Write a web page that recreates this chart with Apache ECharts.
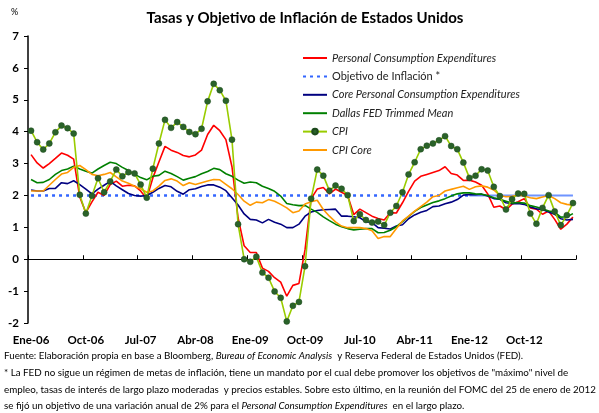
<!DOCTYPE html>
<html>
<head>
<meta charset="utf-8">
<title>Tasas y Objetivo de Inflación de Estados Unidos</title>
<script src="https://cdn.jsdelivr.net/npm/echarts@6/dist/echarts.min.js"></script>
<style>
	html, body { margin: 0; padding: 0; background: #fff; }
	#chart { width: 599px; height: 413px; }
</style>
</head>
<body>
<div id="chart"></div>
<script>
// meses (ene-2006 a jun-2013)
var meses = [
	'Ene-06', 'Feb-06', 'Mar-06', 'Abr-06', 'May-06', 'Jun-06', 'Jul-06', 'Ago-06', 'Sep-06', 'Oct-06', 'Nov-06', 'Dic-06',
	'Ene-07', 'Feb-07', 'Mar-07', 'Abr-07', 'May-07', 'Jun-07', 'Jul-07', 'Ago-07', 'Sep-07', 'Oct-07', 'Nov-07', 'Dic-07',
	'Ene-08', 'Feb-08', 'Mar-08', 'Abr-08', 'May-08', 'Jun-08', 'Jul-08', 'Ago-08', 'Sep-08', 'Oct-08', 'Nov-08', 'Dic-08',
	'Ene-09', 'Feb-09', 'Mar-09', 'Abr-09', 'May-09', 'Jun-09', 'Jul-09', 'Ago-09', 'Sep-09', 'Oct-09', 'Nov-09', 'Dic-09',
	'Ene-10', 'Feb-10', 'Mar-10', 'Abr-10', 'May-10', 'Jun-10', 'Jul-10', 'Ago-10', 'Sep-10', 'Oct-10', 'Nov-10', 'Dic-10',
	'Ene-11', 'Feb-11', 'Mar-11', 'Abr-11', 'May-11', 'Jun-11', 'Jul-11', 'Ago-11', 'Sep-11', 'Oct-11', 'Nov-11', 'Dic-11',
	'Ene-12', 'Feb-12', 'Mar-12', 'Abr-12', 'May-12', 'Jun-12', 'Jul-12', 'Ago-12', 'Sep-12', 'Oct-12', 'Nov-12', 'Dic-12',
	'Ene-13', 'Feb-13', 'Mar-13', 'Abr-13', 'May-13', 'Jun-13'
];

// Personal Consumption Expenditures
var pce = [
	3.28, 3.02, 2.86, 3.00, 3.16, 3.33, 3.26, 3.14, 1.95, 1.46, 1.80, 2.10,
	2.00, 2.34, 2.45, 2.29, 2.32, 2.30, 2.14, 1.90, 2.55, 3.05, 3.54, 3.42,
	3.35, 3.25, 3.21, 3.27, 3.42, 3.91, 4.20, 4.03, 3.75, 2.90, 1.30, 0.42,
	0.21, 0.21, -0.28, -0.38, -0.58, -0.72, -1.16, -0.82, -0.76, 0.30, 1.90, 2.20,
	2.25, 2.05, 2.20, 2.10, 2.00, 1.40, 1.57, 1.46, 1.35, 1.28, 1.23, 1.46,
	1.45, 1.77, 2.13, 2.45, 2.60, 2.66, 2.72, 2.78, 2.90, 2.69, 2.64, 2.47,
	2.48, 2.42, 2.32, 2.05, 1.63, 1.67, 1.55, 1.73, 1.80, 1.90, 1.61, 1.57,
	1.41, 1.51, 1.25, 0.94, 1.10, 1.32
];

// Core PCE
var corePce = [
	2.17, 2.14, 2.14, 2.22, 2.22, 2.40, 2.37, 2.46, 2.34, 2.20, 2.05, 2.20,
	2.32, 2.44, 2.30, 2.18, 2.06, 2.00, 1.98, 2.00, 2.10, 2.22, 2.31, 2.27,
	2.13, 2.04, 2.18, 2.21, 2.28, 2.33, 2.33, 2.26, 2.15, 1.93, 1.70, 1.42,
	1.25, 1.23, 1.14, 1.25, 1.16, 1.10, 0.99, 0.99, 1.10, 1.35, 1.48, 1.53,
	1.55, 1.56, 1.57, 1.35, 1.35, 1.33, 1.30, 1.18, 1.15, 0.99, 0.97, 0.95,
	1.04, 1.08, 1.27, 1.39, 1.47, 1.53, 1.65, 1.67, 1.74, 1.79, 1.87, 2.01,
	2.03, 2.02, 2.04, 1.98, 1.90, 1.88, 1.77, 1.74, 1.75, 1.72, 1.64, 1.58,
	1.56, 1.48, 1.41, 1.27, 1.23, 1.25
];

// Dallas FED Trimmed Mean
var dallas = [
	2.50, 2.40, 2.41, 2.50, 2.66, 2.78, 2.83, 2.92, 2.83, 2.76, 2.70, 2.83,
	2.94, 3.04, 3.00, 2.88, 2.78, 2.67, 2.56, 2.49, 2.60, 2.63, 2.76, 2.69,
	2.59, 2.48, 2.54, 2.59, 2.68, 2.75, 2.85, 2.81, 2.68, 2.60, 2.48, 2.38,
	2.42, 2.40, 2.29, 2.22, 2.13, 1.98, 1.75, 1.71, 1.68, 1.69, 1.57, 1.47,
	1.33, 1.21, 1.10, 1.02, 0.96, 0.92, 0.94, 0.96, 0.96, 0.83, 0.84, 0.91,
	1.02, 1.18, 1.34, 1.50, 1.62, 1.70, 1.78, 1.83, 1.90, 1.98, 2.05, 2.08,
	2.08, 2.05, 2.04, 2.00, 1.93, 1.88, 1.82, 1.76, 1.78, 1.76, 1.68, 1.64,
	1.58, 1.51, 1.48, 1.32, 1.33, 1.43
];

// CPI
var cpi = [
	4.03, 3.67, 3.44, 3.63, 3.98, 4.19, 4.11, 3.94, 2.02, 1.43, 1.99, 2.54,
	2.10, 2.44, 2.81, 2.60, 2.73, 2.69, 2.34, 1.93, 2.84, 3.63, 4.37, 4.12,
	4.30, 4.15, 3.99, 3.92, 4.09, 4.95, 5.50, 5.30, 4.97, 3.75, 1.10, 0.00,
	-0.08, 0.08, -0.42, -0.58, -1.01, -1.21, -1.95, -1.46, -1.34, -0.22, 1.90, 2.81,
	2.62, 2.15, 2.31, 2.21, 2.01, 1.20, 1.41, 1.23, 1.15, 1.18, 1.07, 1.46,
	1.67, 2.10, 2.66, 3.04, 3.45, 3.56, 3.63, 3.73, 3.86, 3.55, 3.45, 3.03,
	2.55, 2.62, 2.82, 2.78, 2.27, 1.98, 1.56, 1.88, 2.06, 2.05, 1.43, 1.11,
	1.61, 2.01, 1.50, 1.07, 1.38, 1.76
];

// CPI Core
var cpiCore = [
	2.14, 2.14, 2.14, 2.32, 2.50, 2.67, 2.72, 2.88, 2.94, 2.81, 2.66, 2.62,
	2.66, 2.72, 2.58, 2.45, 2.38, 2.29, 2.21, 2.10, 2.14, 2.29, 2.47, 2.52,
	2.45, 2.31, 2.40, 2.34, 2.40, 2.45, 2.50, 2.49, 2.35, 2.21, 2.03, 1.82,
	1.69, 1.79, 1.77, 1.87, 1.82, 1.72, 1.61, 1.46, 1.51, 1.73, 1.80, 1.85,
	1.56, 1.35, 1.17, 1.04, 0.99, 0.99, 0.99, 0.96, 0.89, 0.65, 0.71, 0.71,
	0.96, 1.20, 1.35, 1.51, 1.65, 1.79, 1.96, 2.00, 2.14, 2.19, 2.24, 2.29,
	2.19, 2.27, 2.30, 2.26, 2.17, 2.00, 1.96, 1.97, 2.01, 1.98, 1.93, 1.90,
	1.95, 2.00, 1.90, 1.77, 1.72, 1.69
];

// objetivo de 2% (fijado en la reunion del FOMC de enero 2012)
var objetivo = 2;
var objetivoFijado = 'Ene-12';

var yTicks = [-2, -1, 0, 1, 2, 3, 4, 5, 6, 7];

var FONT = 'Lato, "DejaVu Sans", sans-serif';

function initChart(el) {
	var myChart = echarts.init(el, null, { renderer: 'canvas' });
	var idxFijo = meses.indexOf(objetivoFijado);

	// antes del FOMC: punteado, despues: linea continua
	var objPunteado = meses.map(function(m, i) {
		return i <= idxFijo ? objetivo : null;
	});
	var objContinuo = meses.map(function(m, i) {
		return i >= idxFijo ? objetivo : null;
	});

	var plain = function(name, color, data) {
		return {
			name: name,
			type: 'line',
			data: data,
			symbol: 'none',
			lineStyle: { color: color, width: 1.6 },
			itemStyle: { color: color },
			z: 3
		};
	};

	// en la leyenda solo la linea (sin circulo)
	var soloLinea = { opacity: 0 };
	var it = { fontStyle: 'italic' };

	var option = {
		animation: false,
		backgroundColor: '#fff',
		textStyle: { fontFamily: FONT },
		legend: {
			orient: 'vertical',
			left: 297,
			top: 47,
			itemWidth: 24,
			itemHeight: 7,
			itemGap: 6.4,
			textStyle: { fontFamily: FONT, fontSize: 11, color: '#222', lineHeight: 12 },
			data: [
				{ name: 'Personal Consumption Expenditures', textStyle: it, itemStyle: soloLinea },
				{ name: 'Objetivo de Inflación *', itemStyle: soloLinea },
				{ name: 'Core Personal Consumption Expenditures', textStyle: it, itemStyle: soloLinea },
				{ name: 'Dallas FED Trimmed Mean', textStyle: it, itemStyle: soloLinea },
				{ name: 'CPI', textStyle: it },
				{ name: 'CPI Core', textStyle: it, itemStyle: soloLinea }
			]
		},
		grid: {
			left: 28,
			right: 23,
			top: 36,
			bottom: 90
		},
		xAxis: [{
			// etiquetas abajo
			type: 'category',
			data: meses,
			boundaryGap: true,
			position: 'bottom',
			axisLine: { show: false, onZero: false },
			axisTick: { show: false },
			axisLabel: {
				interval: 8,
				margin: 11,
				fontFamily: FONT,
				fontWeight: 'bold',
				fontSize: 11.5,
				color: '#000'
			},
			splitLine: { show: false }
		}, {
			// linea del cero
			type: 'category',
			data: meses,
			boundaryGap: true,
			position: 'bottom',
			axisLine: { show: true, onZero: true, lineStyle: { color: '#000', width: 1.2 } },
			axisTick: { show: true, interval: 8, inside: true, length: 4, lineStyle: { color: '#000' } },
			axisLabel: { show: false },
			splitLine: { show: false }
		}],
		yAxis: {
			type: 'value',
			min: yTicks[0],
			max: yTicks[yTicks.length - 1],
			interval: 1,
			axisLine: { show: true, lineStyle: { color: '#000', width: 1.5 } },
			axisTick: { show: true, length: 4, lineStyle: { color: '#000' } },
			axisLabel: {
				margin: 9,
				fontFamily: FONT,
				fontWeight: 'bold',
				fontSize: 11.5,
				color: '#000'
			},
			splitLine: { show: false }
		},
		series: [
			plain('Personal Consumption Expenditures', '#ff0000', pce),
			{
				name: 'Objetivo de Inflación *',
				type: 'line',
				data: objPunteado,
				symbol: 'none',
				lineStyle: { color: '#3366ff', width: 2.5, type: [3, 4] },
				itemStyle: { color: '#3366ff' },
				z: 2
			},
			{
				name: 'objetivo fijado',
				type: 'line',
				data: objContinuo,
				symbol: 'none',
				lineStyle: { color: '#6f94ff', width: 2 },
				itemStyle: { color: '#6f94ff' },
				z: 2
			},
			plain('Core Personal Consumption Expenditures', '#000080', corePce),
			plain('Dallas FED Trimmed Mean', '#008000', dallas),
			{
				name: 'CPI',
				type: 'line',
				data: cpi,
				symbol: 'circle',
				symbolSize: 6,
				showSymbol: true,
				showAllSymbol: true,
				lineStyle: { color: '#99cc00', width: 1.6 },
				itemStyle: { color: '#2a622a', borderColor: '#1d4a1d', borderWidth: 0.5 },
				z: 4
			},
			plain('CPI Core', '#ff9900', cpiCore)
		],
		graphic: [{
			type: 'text',
			x: 305,
			y: 11,
			style: {
				text: 'Tasas y Objetivo de Inflación de Estados Unidos',
				align: 'center',
				fontFamily: FONT, fontWeight: 'bold', fontSize: 15, fill: '#000'
			}
		}, {
			type: 'text',
			left: 11,
			top: 8,
			style: { text: '%', fontFamily: FONT, fontSize: 9, fill: '#000' }
		}, {
			type: 'text',
			left: 4,
			top: 351,
			style: {
				text: '{n|Fuente: Elaboración propia en base a Bloomberg, }{i|Bureau of Economic Analysis}{n|  y Reserva Federal de Estados Unidos (FED).}',
				rich: {
					n: { fontFamily: FONT, fontSize: 9.8, fill: '#000' },
					i: { fontFamily: FONT, fontSize: 9.8, fontStyle: 'italic', fill: '#000' }
				}
			}
		}, {
			type: 'text',
			left: 4,
			top: 368,
			style: {
				text: '* La FED no sigue un régimen de metas de inflación, tiene un mandato por el cual debe promover los objetivos de "máximo" nivel de',
				fontFamily: FONT, fontSize: 9.8, fill: '#000'
			}
		}, {
			type: 'text',
			left: 4,
			top: 385,
			style: {
				text: 'empleo, tasas de interés de largo plazo moderadas  y precios estables. Sobre esto último, en la reunión del FOMC del 25 de enero de 2012',
				fontFamily: FONT, fontSize: 9.8, fill: '#000'
			}
		}, {
			type: 'text',
			left: 4,
			top: 401,
			style: {
				text: '{n|se fijó un objetivo de una variación anual de 2% para el }{i|Personal Consumption Expenditures}{n|  en el largo plazo.}',
				rich: {
					n: { fontFamily: FONT, fontSize: 9.8, fill: '#000' },
					i: { fontFamily: FONT, fontSize: 9.8, fontStyle: 'italic', fill: '#000' }
				}
			}
		}]
	};

	myChart.setOption(option);
}

initChart(document.getElementById('chart'));
</script>
</body>
</html>
